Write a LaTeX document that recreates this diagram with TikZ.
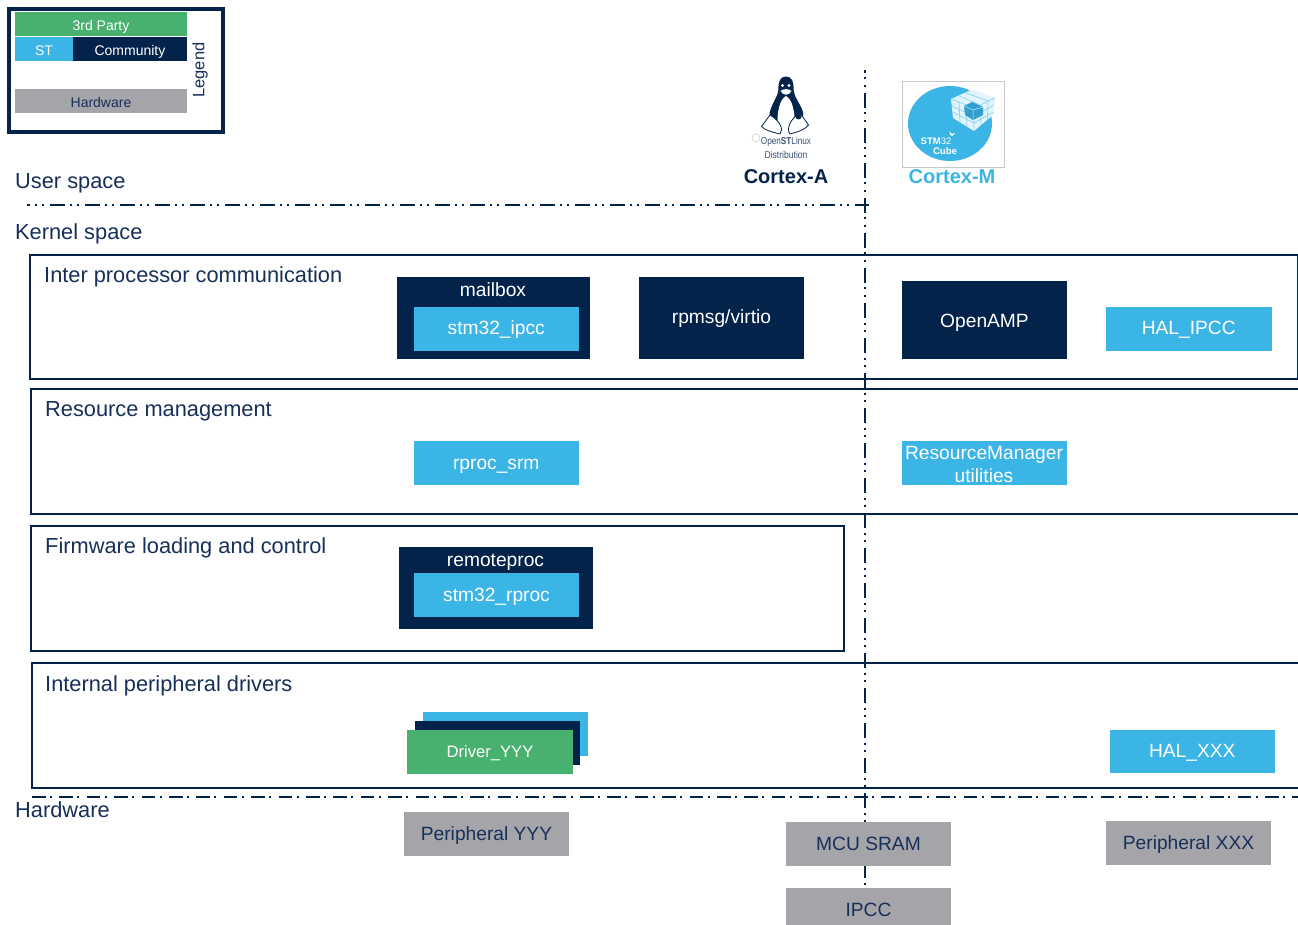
\documentclass[tikz,border=0pt]{standalone}
\usepackage{fontspec}
\setmainfont{Liberation Sans}
\definecolor{navy}{HTML}{03234B}
\definecolor{stblue}{HTML}{3BB4E6}
\definecolor{tpgreen}{HTML}{49B170}
\definecolor{hwgrey}{HTML}{A5A4A9}
\definecolor{txt}{HTML}{17305A}
\tikzset{
 x=1pt,y=-1pt,
 wh/.style 2 args={minimum width=#1pt,minimum height=#2pt},
 box/.style={anchor=north west,inner sep=0pt,outer sep=0pt,align=center,font=\fontsize{19.2}{21}\selectfont,
   execute at begin node={\rule[-5pt]{0pt}{23pt}}},
 navybox/.style={box,fill=navy,text=white},
 bluebox/.style={box,fill=stblue,text=white},
 greenbox/.style={box,fill=tpgreen,text=white},
 greybox/.style={box,fill=hwgrey,text=txt},
 frame/.style={box,draw=navy,line width=1.5pt,fill=none},
 lab/.style={anchor=base west,inner sep=0pt,text=txt,font=\fontsize{21.8}{24}\selectfont},
 sepv/.style={draw=navy,line width=1.3pt,dash pattern=on 15pt off 4.5pt on 2pt off 5.5pt on 2pt off 6pt,dash phase=12pt},
 seph/.style={draw=navy,line width=1.1pt,dash pattern=on 13.5pt off 4.5pt on 2pt off 7.4pt},
 small/.style={font=\fontsize{14}{15}\selectfont,execute at begin node={\rule[-3pt]{0pt}{14pt}}},
 inner/.style={anchor=base,inner sep=0pt,text=white,font=\fontsize{19.2}{21}\selectfont},
 tiny/.style={inner sep=0pt,text=txt!85,font=\fontsize{10}{10}\selectfont},
 cubetxt/.style={inner sep=0pt,text=white,font=\fontsize{9.5}{10}\selectfont},
}
\begin{document}
\begin{tikzpicture}
\useasboundingbox (0,0) rectangle (1298,925);
\fill[white] (0,0) rectangle (1298,925);
% frames
\node[frame,wh={1268}{124}] (ipc) at (30,255) {};
\node[frame,wh={1268}{125}] (res) at (31,389) {};
\node[frame,wh={813}{125}] (fw) at (31,526) {};
\node[frame,wh={1267}{125}] (per) at (32,663) {};
% separators
\coordinate (vtop) at (865,70);
\coordinate (vbot) at (865,890);
\coordinate (ul) at (27,205);
\coordinate (ur) at (869,205);
\coordinate (hl) at (32,797);
\coordinate (hr) at (1298,797);
\draw[sepv] (vtop) -- (vbot);
\draw[sepv] (ul) -- (ur);
\draw[seph] (hl) -- (hr);
% legend
\node[box,execute at begin node={},draw=navy,line width=4pt,fill=white,wh={214}{123}] (legend) at (9,9) {};
\node[greenbox,small,wh={172}{24}] (l3) at (15,12) {3rd Party};
\node[bluebox,small,wh={58}{24}] (lst) at (15,37) {ST};
\node[navybox,small,wh={114}{24}] (lc) at (73,37) {Community};
\node[greybox,small,wh={172}{24}] (lh) at (15,89) {Hardware};
\node[rotate=90,inner sep=0pt,text=txt,font=\fontsize{16.5}{18}\selectfont] (lleg) at (200,70) {Legend};
% labels
\node[lab] (us) at (15,189) {User space};
\node[lab] (ks) at (15,240) {Kernel space};
\node[lab] (t1) at (44,282.5) {Inter processor communication};
\node[lab] (t2) at (45,416.5) {Resource management};
\node[lab] (t3) at (45,553.5) {Firmware loading and control};
\node[lab] (t4) at (45,691.5) {Internal peripheral drivers};
\node[lab] (hw) at (15,817) {Hardware};
% IPC
\node[navybox,wh={193}{82}] (mb) at (397,277) {};
\node[inner] (mbt) at (493,297) {mailbox};
\node[bluebox,wh={165.5}{44}] (ipcc) at (413.5,306.5) {\raisebox{1pt}{stm32\_ipcc}};
\node[navybox,wh={165}{82}] (rp) at (639,277) {\raisebox{1pt}{rpmsg/virtio}};
\node[navybox,wh={165}{78}] (oa) at (902,281) {\raisebox{-1pt}{OpenAMP}};
\node[bluebox,wh={165.5}{44}] (hi) at (1106,306.5) {\raisebox{1pt}{HAL\_IPCC}};
% resource
\node[bluebox,wh={165.5}{44}] (srm) at (413.5,441) {rproc\_srm};
\node[bluebox,wh={165.5}{44}] (rm) at (901.5,441) {};
\node[inner,anchor=center,align=center] (rmt2) at (984,464) {ResourceManager\\[2pt]utilities};
% firmware
\node[navybox,wh={194}{82}] (rmt) at (399,547) {};
\node[inner] (rmtt) at (495.5,566) {remoteproc};
\node[bluebox,wh={165}{44}] (rpr) at (414,573) {stm32\_rproc};
% peripheral drivers
\node[bluebox,wh={165.5}{44}] (d3) at (422.5,712) {};
\node[navybox,wh={165}{44}] (d2) at (415,721) {};
\node[greenbox,wh={166}{44},font=\fontsize{16.6}{19}\selectfont] (d1) at (407,730) {\raisebox{1pt}{Driver\_YYY}};
\node[bluebox,wh={165.5}{43.5}] (hx) at (1109.5,729.5) {HAL\_XXX};
% hardware
\node[greybox,wh={165}{44}] (py) at (404,812) {Peripheral YYY};
\node[greybox,wh={165}{44}] (sram) at (786,822) {MCU SRAM};
\node[greybox,wh={165}{44}] (px) at (1106,821) {Peripheral XXX};
\node[greybox,wh={165}{37}] (ipcc2) at (786,888) {\raisebox{-3.5pt}{IPCC}};
% titles
\node[inner sep=0pt,text=navy,font=\bfseries\fontsize{20}{21}\selectfont] (ca) at (786,177) {Cortex-A};
\node[inner sep=0pt,text=stblue,font=\bfseries\fontsize{20}{21}\selectfont] (cm) at (952,177) {Cortex-M};
% penguin
\fill[navy] (786,76.5) .. controls (780,76.5) and (778,82) .. (778.5,90) .. controls (778,96) and (772,103) .. (769.5,113)
  .. controls (769,118) and (771,124) .. (775,128) -- (797,128) .. controls (801,124) and (804,118) .. (803,112)
  .. controls (800,103) and (794,97) .. (793.5,90) .. controls (794,82) and (792,76.5) .. (786,76.5) -- cycle;
\fill[white] (786,96) .. controls (780,99) and (776,112) .. (778,130) -- (794,130) .. controls (796,112) and (792,99) .. (786,96) -- cycle;
\fill[white] (782.5,85.5) circle (1.7) (789,85.5) circle (1.7);
\fill[white] (780.5,91) .. controls (783,96) and (789,96) .. (791.5,91) .. controls (789,88.5) and (783,88.5) .. (780.5,91) -- cycle;
\draw[navy,line width=.8pt,fill=white,line join=round] (770,115) -- (761.5,126.5) .. controls (764,130) and (772,132) .. (780,134) .. controls (784,129) and (780,121) .. (770,115) -- cycle;
\draw[navy,line width=.8pt,fill=white,line join=round] (800,113) -- (808.5,125) .. controls (806,129) and (798,132) .. (790,134) .. controls (786,129) and (790,119) .. (800,113) -- cycle;
\fill[navy] (798.5,116.5) circle (3);
\draw[hwgrey!60,line width=.5pt] (756,138) circle (4);
\node[tiny] (penta) at (786,142) {\scalebox{.82}[1]{Open\textbf{ST}Linux}};
\node[tiny] (pentb) at (786,155) {\scalebox{.86}[1]{Distribution}};
% cube logo
\draw[hwgrey!60,fill=white,line width=.8pt] (902.5,81) rectangle (1004.5,167);
\fill[stblue] (950,123.5) ellipse (42 and 37.5);
\fill[white!85!stblue] (951,99) -- (972,89.5) -- (995,98) -- (993,115) -- (974,131) -- (953,118) -- cycle;
\draw[stblue!60,line width=.7pt]
 (951,99) -- (974,108) -- (995,98)
 (974,108) -- (974,131)
 (958,95.5) -- (980,105)
 (965,92.5) -- (988,101)
 (952,106) -- (974,116)
 (952.5,112) -- (974,123)
 (959,102) -- (960,122.5)
 (966,104.5) -- (967,127)
 (981,105) -- (981,125)
 (988,101) -- (987.5,120)
 (974,116) -- (994,105)
 (974,123) -- (993.5,112);
\fill[stblue!85!navy] (964,106) -- (972,102) -- (983,107) -- (983,115) -- (973,120) -- (965,115) -- cycle;
\draw[white!70!stblue,line width=.5pt] (964,106) -- (973,110) -- (983,107) (973,110) -- (973,120);
\fill[white] (951.5,134) -- (949.5,131) -- (950,134.5) -- (952,136) -- (955,133) -- cycle;
\node[cubetxt] (stm) at (936,141) {\textbf{STM}32};
\node[cubetxt,font=\bfseries\fontsize{9.6}{10}\selectfont] (cube) at (945,151) {Cube};
\end{tikzpicture}
\end{document}
